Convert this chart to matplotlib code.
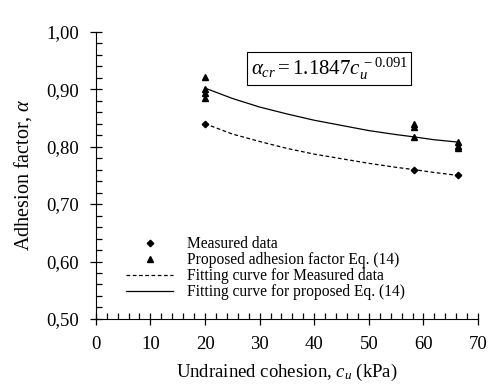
import numpy as np
import matplotlib
matplotlib.use('Agg')
import matplotlib.pyplot as plt
from matplotlib.ticker import MultipleLocator, FuncFormatter

plt.rcParams['font.family'] = ['Liberation Serif', 'DejaVu Serif']
plt.rcParams['mathtext.fontset'] = 'custom'
plt.rcParams['mathtext.it'] = 'Liberation Serif:italic'
plt.rcParams['mathtext.rm'] = 'Liberation Serif'

# measured data
measured_cu = [20, 58.3, 66.3]
measured_alpha = [0.840, 0.760, 0.750]

# proposed adhesion factor Eq. (14)
proposed_cu = [20, 20, 20, 20, 58.3, 58.3, 58.3, 66.3, 66.3, 66.3]
proposed_alpha = [0.922, 0.900, 0.894, 0.884, 0.840, 0.835, 0.817, 0.808, 0.801, 0.797]

# fitting curves
fit_cu = [20, 25, 30, 35, 40, 45, 50, 55, 58.3, 62, 66.3]
fit_measured = [0.840, 0.822, 0.809, 0.797, 0.787, 0.779, 0.771, 0.764, 0.760, 0.755, 0.750]
fit_proposed = [0.902, 0.884, 0.869, 0.857, 0.846, 0.837, 0.828, 0.821, 0.817, 0.812, 0.808]

fig = plt.figure(figsize=(4.99, 3.88), dpi=100)
ax = fig.add_axes([0.192, 0.178, 0.766, 0.740])

ax.plot(measured_cu, measured_alpha, 'D', color='black', ms=3.3, label='Measured data')
ax.plot(proposed_cu, proposed_alpha, '^', color='black', ms=4.5,
        label='Proposed adhesion factor Eq. (14)')
ax.plot(fit_cu, fit_measured, '--', color='black', lw=0.9, dashes=(3, 2),
        label='Fitting curve for Measured data')
ax.plot(fit_cu, fit_proposed, '-', color='black', lw=0.9,
        label='Fitting curve for proposed Eq. (14)')

ax.set_xlim(0, 70)
ax.set_ylim(0.5, 1.0)
ax.xaxis.set_major_locator(MultipleLocator(10))
ax.xaxis.set_minor_locator(MultipleLocator(2))
ax.yaxis.set_major_locator(MultipleLocator(0.1))
ax.yaxis.set_minor_locator(MultipleLocator(0.02))
ax.yaxis.set_major_formatter(FuncFormatter(lambda v, p: ('%.2f' % v).replace('.', ',')))

for s in ['top', 'right']:
    ax.spines[s].set_visible(False)
ax.tick_params(which='major', direction='inout', length=8, width=0.9, labelsize=13.5,
               colors='black', pad=8)
ax.tick_params(which='minor', direction='in', length=4, width=0.9)

ax.set_xlabel(r'Undrained cohesion, $c_u$ (kPa)', fontsize=13.5, labelpad=7)
ax.set_ylabel(r'Adhesion factor, $\alpha$', fontsize=14.5, labelpad=9)

ax.text(0.405, 0.872, r'$\alpha_{cr} = 1.1847c_u^{\,-0.091}$', transform=ax.transAxes,
        fontsize=15, va='center', ha='left',
        bbox=dict(boxstyle='square,pad=0.15', fc='white', ec='black', lw=0.8))

ax.legend(loc='lower left', bbox_to_anchor=(0.08, 0.066), frameon=False, fontsize=11.2,
          handlelength=3.0, handletextpad=0.9, labelspacing=0.0, borderaxespad=0,
          borderpad=0)

fig.savefig('out.png', dpi=100)
